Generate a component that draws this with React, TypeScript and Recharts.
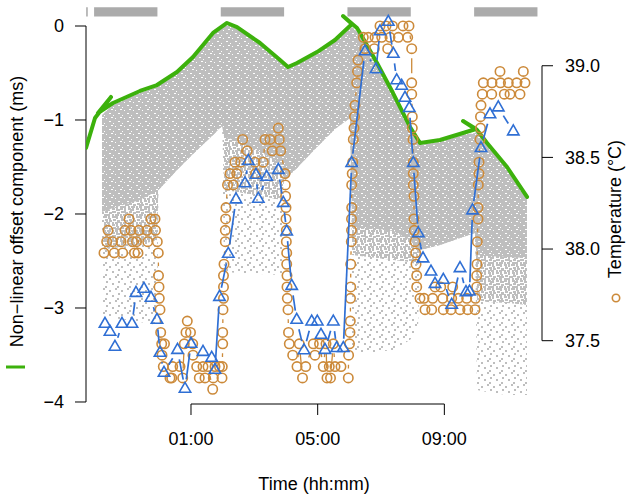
import React from 'react';
import { ComposedChart, Area, Line, XAxis, YAxis, ReferenceArea, ReferenceLine } from 'recharts';

const FONT = '"Liberation Sans", Arial, Helvetica, sans-serif';

// axis ranges (hours relative to midnight, ms, degC)
const X_MIN = -2.3154;
const X_MAX = 12.0831;
const MS_MIN = -4.0213;
const MS_MAX = 0.2766;
const T_MIN = 37.1546;
const T_MAX = 39.3587;

const timeTicks = [1, 5, 9];
const msTicks = [0, -1, -2, -3, -4];
const tempTicks = [37.5, 38.0, 38.5, 39.0];

// grey bars on top (dark periods)
const darkStart = [-2.31, -2.06, 1.94, 5.94, 9.94];
const darkEnd = [-2.26, -0.06, 3.94, 7.94, 11.94];

// non-linear offset component (green line)
const offsetHours = [-2.315, -2.031, -1.526, -1.937, -1.463, -0.61, -0.074, 0.558, 1.063, 1.695, 2.137, 2.453, 3.179, 3.811, 4.063, 4.347, 4.979, 5.547, 6.084, 5.8, 6.242, 6.337, 6.874, 7.379, 7.916, 8.232, 8.864, 9.59, 9.999, 9.59, 10.032, 10.348, 10.979, 11.611];
const offsetMs = [-1.298, -0.979, -0.755, -0.926, -0.819, -0.691, -0.628, -0.489, -0.33, -0.074, 0.032, -0.011, -0.181, -0.362, -0.436, -0.394, -0.277, -0.149, 0.021, 0.106, -0.021, -0.074, -0.394, -0.713, -1.074, -1.245, -1.213, -1.138, -1.096, -1.011, -1.106, -1.245, -1.5, -1.819];

// grey point cloud envelope (ms)
const cloudHours = [-1.81, -1.463, -0.61, -0.074, -0.026, 0.558, 1.063, 1.695, 1.979, 2.042, 2.137, 2.453, 3.179, 3.873, 3.937, 4.347, 4.979, 5.547, 6.021, 6.084, 6.336, 6.873, 7.378, 7.915, 8.168, 8.231, 8.862, 9.589, 9.967, 10.031, 10.346, 10.978, 11.609];
const cloudTop = [-0.947, -0.841, -0.713, -0.65, -0.639, -0.511, -0.352, -0.096, -0.011, -0.001, 0.01, -0.033, -0.203, -0.405, -0.426, -0.416, -0.299, -0.171, -0.033, -0.011, -0.096, -0.416, -0.735, -1.096, -1.224, -1.267, -1.235, -1.16, -1.139, -1.128, -1.267, -1.522, -1.841];
const cloudDenseLow = [-1.979, -1.936, -1.851, -1.755, -1.745, -1.532, -1.362, -1.16, -1.064, -1.17, -1.181, -1.234, -1.34, -1.468, -1.649, -1.511, -1.287, -1.096, -0.979, -2.149, -2.149, -2.16, -2.181, -2.277, -2.383, -2.383, -2.33, -2.245, -2.202, -2.436, -2.447, -2.457, -2.468];
const cloudMidLow = [-2.383, -2.362, -2.33, -2.277, -1.745, -1.532, -1.362, -1.16, -1.064, -1.745, -1.75, -1.766, -1.809, -1.851, -1.649, -1.511, -1.287, -1.096, -0.979, -2.436, -2.447, -2.468, -2.489, -2.511, -2.543, -2.383, -2.33, -2.245, -2.202, -2.915, -2.936, -2.947, -2.968];
const cloudSparseLow = [-3.074, -3.106, -3.149, -3.181, -1.745, -1.532, -1.362, -1.16, -1.064, -2.617, -2.617, -2.628, -2.638, -2.649, -1.649, -1.511, -1.287, -1.096, -0.979, -3.447, -3.468, -3.468, -3.447, -3.34, -3.234, -2.383, -2.33, -2.245, -2.202, -3.872, -3.894, -3.926, -3.926];

// temperature (circles)
const tempHours = [
  -1.747, -1.662, -1.621, -1.479, -1.422, -1.21, -1.157, -1.084, -0.958, -0.895, -0.847, -0.784, -0.721, -0.674, -0.642, -0.389, -0.367, -0.263, -0.137, -0.121, -0.064, -0.033,
  -0.026, -0.01, -0.001, 0.021, 0.043, 0.075, 0.163, 0.084, 0.125, 0.337, 0.391, 0.422, 0.653, 0.738, 0.788, 0.842, 0.883, 0.984, 1.054, 1.063, 1.18, 1.262, 1.379, 1.442, 1.537, 1.685, 1.704, 1.758, 1.9, 1.979, 1.988,
  2.001, 2.001, 2.01, 2.026, 2.026, 2.026, 2.042, 2.083, 2.083, 2.093, 2.105, 2.153, 2.231, 2.336, 2.389, 2.443, 2.569, 2.632, 2.778, 3.021, 3.037, 3.283, 3.337, 3.494, 3.567, 3.757, 3.788, 3.832,
  3.968, 3.978, 3.987, 4.0, 4.0, 4.01, 4.01, 4.022, 4.022, 4.031, 4.031, 4.041, 4.063, 4.079, 4.104, 4.211, 4.347, 4.42, 4.521, 4.622, 4.862, 4.915, 5.058, 5.177, 5.263, 5.294, 5.367, 5.405, 5.493, 5.547, 5.736,
  5.967, 5.976, 6.005, 6.02, 6.03, 6.036, 6.043, 6.043, 6.062, 6.068, 6.068, 6.074, 6.074, 6.09, 6.106, 6.125, 6.147, 6.163, 6.178, 6.232, 6.257, 6.273,
  6.441, 6.494, 6.599, 6.788, 6.81, 6.968, 7.021, 7.157, 7.211, 7.283, 7.362, 7.546, 7.694, 7.842, 7.883, 7.969,
  7.969, 7.969, 7.988, 7.988, 8.01, 8.019, 8.019, 8.019, 8.041, 8.041, 8.051, 8.073, 8.095, 8.105, 8.127, 8.127,
  8.231, 8.357, 8.389, 8.6, 8.632, 8.705, 8.885, 8.948, 8.967, 9.21, 9.232, 9.263, 9.44, 9.494, 9.705, 9.737, 9.968, 9.983,
  10.021, 10.021, 10.031, 10.04, 10.062, 10.062, 10.072, 10.094, 10.094, 10.125, 10.141, 10.141, 10.157, 10.198, 10.23,
  10.495, 10.504, 10.757, 10.773, 10.893, 11.019, 11.073, 11.284, 11.388, 11.493, 11.546,
];
const tempC = [
  37.979, 38.04, 38.102, 38.04, 37.979, 38.04, 37.979, 38.102, 38.164, 38.102, 38.04, 37.979, 38.04, 37.979, 38.102, 38.102, 38.04, 38.164, 38.164, 38.102, 38.04, 37.979,
  37.855, 37.793, 37.731, 37.669, 37.545, 37.483, 37.483, 37.421, 37.359, 37.297, 37.297, 37.359, 37.359, 37.297, 37.483, 37.545, 37.607, 37.545, 37.483, 37.421, 37.359, 37.297, 37.359, 37.297, 37.359, 37.235, 37.297, 37.359, 37.359, 37.297, 37.359,
  37.483, 37.545, 37.669, 37.731, 37.793, 37.855, 37.917, 38.04, 38.102, 38.164, 38.226, 38.35, 38.412, 38.35, 38.474, 38.412, 38.474, 38.598, 38.536, 38.474, 38.412, 38.474, 38.598, 38.598, 38.536, 38.66, 38.598, 38.536,
  38.412, 38.35, 38.288, 38.226, 38.164, 38.102, 38.04, 37.979, 37.917, 37.855, 37.793, 37.731, 37.669, 37.545, 37.483, 37.421, 37.359, 37.483, 37.297, 37.359, 37.483, 37.421, 37.483, 37.359, 37.483, 37.297, 37.359, 37.297, 37.483, 37.359, 37.359,
  37.297, 37.421, 37.483, 37.545, 37.607, 37.731, 37.793, 37.917, 38.04, 38.102, 38.164, 38.226, 38.35, 38.412, 38.474, 38.598, 38.66, 38.722, 38.784, 38.907, 38.969, 39.031,
  39.155, 39.093, 39.155, 39.093, 39.155, 39.217, 39.155, 39.217, 39.093, 39.155, 39.217, 39.155, 39.217, 39.155, 39.217, 39.093,
  38.907, 38.845, 38.722, 38.66, 38.598, 38.474, 38.412, 38.35, 38.288, 38.164, 38.102, 38.04, 37.979, 37.917, 37.855, 37.793,
  37.731, 37.731, 37.669, 37.669, 37.731, 37.793, 37.793, 37.731, 37.669, 37.669, 37.731, 37.793, 37.731, 37.669, 37.731, 37.669, 37.669, 37.731,
  37.793, 37.855, 37.917, 38.04, 38.164, 38.226, 38.35, 38.412, 38.474, 38.598, 38.66, 38.722, 38.784, 38.845, 38.907,
  38.845, 38.907, 38.969, 38.907, 38.845, 38.907, 38.845, 38.907, 38.845, 38.969, 38.907,
];

// second temperature series (triangles)
const triHours = [-1.716, -1.558, -1.401, -1.179, -0.863, -0.737, -0.484, -0.263, -0.074, 0.021, 0.147, 0.574, 0.811, 1.0, 1.379, 1.654, 1.758, 1.9, 2.178, 2.421, 2.705, 2.809, 3.052, 3.125, 3.39, 3.757, 3.914, 4.022, 4.18, 4.338, 4.568, 4.811, 4.988, 5.105, 5.231, 5.493, 5.601, 5.809, 6.074, 6.494, 6.841, 6.968, 7.23, 7.388, 7.495, 7.653, 7.757, 7.893, 8.019, 8.177, 8.326, 8.578, 8.705, 8.967, 9.232, 9.494, 9.683, 9.794, 9.889, 10.157, 10.441, 10.703, 11.177];
const triC = [37.591, 37.548, 37.466, 37.591, 37.591, 37.76, 37.782, 37.733, 37.613, 37.433, 37.324, 37.449, 37.237, 37.482, 37.438, 37.406, 37.34, 37.738, 37.973, 38.27, 38.358, 38.48, 38.404, 38.273, 38.393, 38.431, 38.251, 38.095, 37.798, 37.613, 37.447, 37.604, 37.604, 37.531, 37.449, 37.604, 37.459, 37.459, 38.468, 39.078, 38.98, 39.187, 39.239, 39.064, 38.92, 38.89, 38.824, 38.768, 38.468, 38.086, 37.948, 37.876, 37.809, 37.831, 37.695, 37.895, 37.764, 37.767, 38.21, 38.55, 38.734, 38.772, 38.641];

const GREEN = '#3cb10c';
const ORANGE = '#cc8a3a';
const BLUE = '#2f6fd4';

const cloudData = cloudHours.map((t, i) => ({
  t,
  sparse: [cloudSparseLow[i], cloudTop[i]],
  mid: [cloudMidLow[i], cloudTop[i]],
  dense: [cloudDenseLow[i], cloudTop[i]],
}));
const offsetData = offsetHours.map((t, i) => ({ t, v: offsetMs[i] }));
const tempData = tempHours.map((t, i) => ({ t, c: tempC[i] }));
const triData = triHours.map((t, i) => ({ t, c: triC[i] }));

const fmtTime = (h: number) => {
  const hh = ((Math.round(h) % 24) + 24) % 24;
  return `${hh < 10 ? '0' : ''}${hh}:00`;
};
const fmtMs = (v: number) => (v === 0 ? '0' : v < 0 ? `\u2212${Math.abs(v)}` : `${v}`);

const GAP = 9.5;

function makeDot(kind: 'circle' | 'triangle', color: string, lw: number) {
  return (props: any) => {
    const { cx, cy, index, points } = props;
    const key = `${kind}-${index}`;
    if (cx == null || cy == null || isNaN(cx) || isNaN(cy)) return <g key={key} />;
    let seg: React.ReactNode = null;
    const next = points && points[index + 1];
    if (next && next.x != null && next.y != null) {
      const dx = next.x - cx;
      const dy = next.y - cy;
      const d = Math.hypot(dx, dy);
      if (d > 2 * GAP) {
        const ux = dx / d;
        const uy = dy / d;
        seg = (
          <line x1={cx + ux * GAP} y1={cy + uy * GAP} x2={next.x - ux * GAP} y2={next.y - uy * GAP} stroke={color} strokeWidth={lw} />
        );
      }
    }
    const sym =
      kind === 'circle' ? (
        <circle cx={cx} cy={cy} r={4.7} fill="none" stroke={color} strokeWidth={1.6} />
      ) : (
        <path d={`M${cx},${cy - 6.6}L${cx + 5.7},${cy + 3.3}L${cx - 5.7},${cy + 3.3}Z`} fill="none" stroke={color} strokeWidth={1.6} />
      );
    return (
      <g key={key}>
        {seg}
        {sym}
      </g>
    );
  };
}

const tickStyle = { fill: '#000', fontSize: 18, fontFamily: FONT };

export default function App() {
  return (
    <div style={{ position: 'absolute', left: 0, top: 0, width: 627, height: 494, background: '#fff' }}>
      <svg width={0} height={0} style={{ position: 'absolute', left: 0, top: 0 }}>
        <defs>
          <pattern id="pDense" width={9} height={8} patternUnits="userSpaceOnUse">
            <rect width={9} height={8} fill="#bebebe" />
            <rect x={1} y={1} width={2} height={1} fill="#fff" />
            <rect x={5} y={3} width={1} height={1} fill="#fff" />
            <rect x={3} y={5} width={2} height={1} fill="#fff" />
            <rect x={7} y={6} width={1} height={1} fill="#fff" />
          </pattern>
          <pattern id="pMid" width={8} height={8} patternUnits="userSpaceOnUse">
            <rect x={0} y={0} width={3} height={2} fill="#bebebe" />
            <rect x={4} y={0} width={2} height={3} fill="#bebebe" />
            <rect x={1} y={3} width={3} height={2} fill="#bebebe" />
            <rect x={5} y={4} width={3} height={2} fill="#bebebe" />
            <rect x={0} y={6} width={2} height={2} fill="#bebebe" />
            <rect x={3} y={6} width={3} height={2} fill="#bebebe" />
          </pattern>
          <pattern id="pSparse" width={12} height={12} patternUnits="userSpaceOnUse">
            <rect x={1} y={2} width={2} height={2} fill="#bebebe" />
            <rect x={7} y={0} width={2} height={2} fill="#bebebe" />
            <rect x={4} y={7} width={2} height={2} fill="#bebebe" />
            <rect x={10} y={5} width={2} height={2} fill="#bebebe" />
            <rect x={9} y={10} width={2} height={2} fill="#bebebe" />
          </pattern>
        </defs>
      </svg>
      <ComposedChart width={627} height={494} data={cloudData} margin={{ top: 0, right: 0, bottom: 0, left: 0 }}>
        <XAxis
          type="number"
          dataKey="t"
          domain={[X_MIN, X_MAX]}
          allowDataOverflow
          ticks={timeTicks}
          interval={0}
          tickFormatter={fmtTime}
          axisLine={false}
          tickLine={{ stroke: '#000' }}
          tickSize={11}
          tickMargin={17}
          height={90}
          tick={tickStyle}
        />
        <YAxis
          yAxisId="ms"
          type="number"
          domain={[MS_MIN, MS_MAX]}
          allowDataOverflow
          ticks={msTicks}
          interval={0}
          tickFormatter={fmtMs}
          width={86}
          axisLine={false}
          tickLine={{ stroke: '#000' }}
          tickSize={11}
          tickMargin={11}
          tick={tickStyle}
        />
        <YAxis
          yAxisId="temp"
          orientation="right"
          type="number"
          domain={[T_MIN, T_MAX]}
          allowDataOverflow
          ticks={tempTicks}
          interval={0}
          tickFormatter={(v: number) => v.toFixed(1)}
          width={85}
          axisLine={false}
          tickLine={{ stroke: '#000' }}
          tickSize={11}
          tickMargin={12}
          tick={tickStyle}
        />
        <Area yAxisId="ms" type="linear" dataKey="sparse" fill="url(#pSparse)" fillOpacity={1} stroke="none" isAnimationActive={false} dot={false} activeDot={false} />
        <Area yAxisId="ms" type="linear" dataKey="mid" fill="url(#pMid)" fillOpacity={1} stroke="none" isAnimationActive={false} dot={false} activeDot={false} />
        <Area yAxisId="ms" type="linear" dataKey="dense" fill="url(#pDense)" fillOpacity={1} stroke="none" isAnimationActive={false} dot={false} activeDot={false} />
        {darkStart.map((s, i) => (
          <ReferenceArea key={`dark-${i}`} yAxisId="ms" x1={s} x2={darkEnd[i]} y1={0.1} y2={0.2} fill="#ababab" fillOpacity={1} stroke="none" ifOverflow="hidden" />
        ))}
        <ReferenceLine yAxisId="ms" segment={[{ x: X_MIN, y: 0 }, { x: X_MIN, y: -4 }]} stroke="#000" strokeWidth={1} ifOverflow="visible" />
        <ReferenceLine yAxisId="ms" segment={[{ x: 1, y: MS_MIN }, { x: 9, y: MS_MIN }]} stroke="#000" strokeWidth={1} ifOverflow="visible" />
        <ReferenceLine yAxisId="temp" segment={[{ x: X_MAX, y: 37.5 }, { x: X_MAX, y: 39.0 }]} stroke="#000" strokeWidth={1} ifOverflow="visible" />
        <Line yAxisId="ms" data={offsetData} dataKey="v" type="linear" stroke={GREEN} strokeWidth={4} strokeLinejoin="round" strokeLinecap="round" dot={false} activeDot={false} isAnimationActive={false} />
        <Line yAxisId="temp" data={tempData} dataKey="c" type="linear" stroke="none" dot={makeDot('circle', ORANGE, 1.3)} activeDot={false} isAnimationActive={false} />
        <Line yAxisId="temp" data={triData} dataKey="c" type="linear" stroke="none" dot={makeDot('triangle', BLUE, 1.7)} activeDot={false} isAnimationActive={false} />
      </ComposedChart>
      <svg width={627} height={494} style={{ position: 'absolute', left: 0, top: 0, pointerEvents: 'none' }}>
        <text x={23} y={211.5} transform="rotate(-90 23 211.5)" textAnchor="middle" fontFamily={FONT} fontSize={18} fill="#000">
          Non{'\u2212'}linear offset component (ms)
        </text>
        <rect x={6} y={365.5} width={19} height={3} fill={GREEN} />
        <text x={620.6} y={209} transform="rotate(-90 620.6 209)" textAnchor="middle" fontFamily={FONT} fontSize={18} fill="#000">
          Temperature (°C)
        </text>
        <circle cx={616} cy={298} r={3.7} fill="none" stroke={ORANGE} strokeWidth={1.6} />
        <text x={314} y={489.5} textAnchor="middle" fontFamily={FONT} fontSize={18} fill="#000">
          Time (hh:mm)
        </text>
      </svg>
    </div>
  );
}
